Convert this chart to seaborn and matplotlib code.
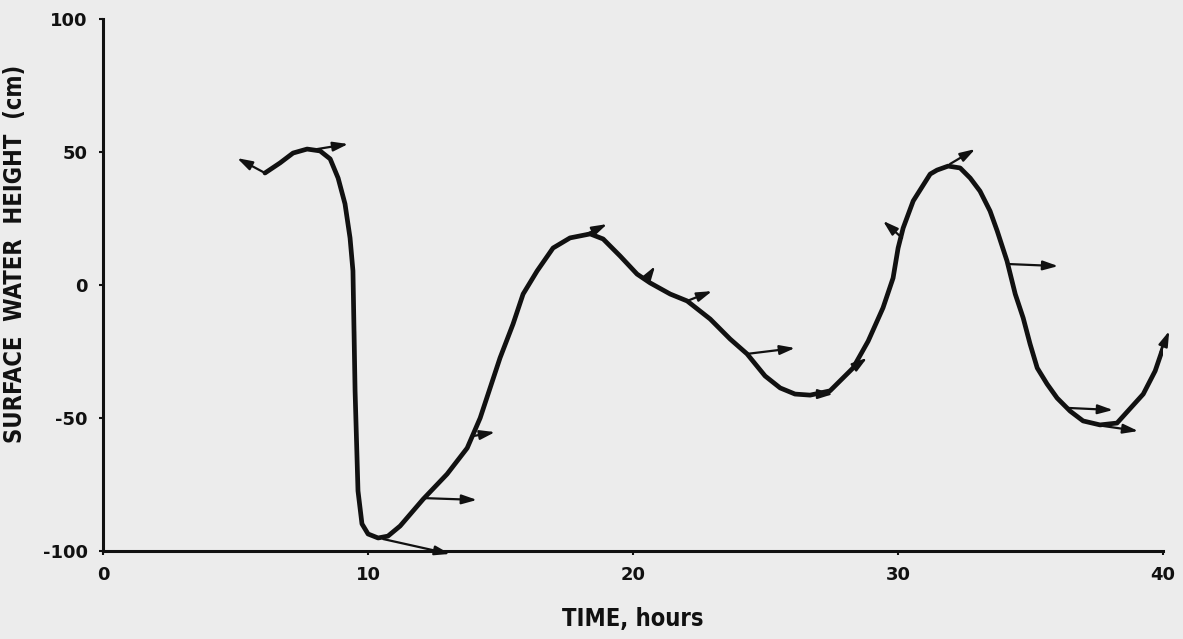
import matplotlib
matplotlib.use("Agg")
import matplotlib.pyplot as plt
import pandas as pd
import seaborn as sns

# surface water height trace
time_h = [6.11, 6.68, 7.17, 7.70, 8.19, 8.57, 8.87, 9.13, 9.32, 9.43, 9.51, 9.51,
          9.51, 9.62, 9.77, 10.00, 10.38, 10.75, 11.21, 12.08, 12.98, 13.74,
          14.23, 14.98, 15.47, 15.85, 16.38, 16.98, 17.62, 18.38, 18.87, 19.51,
          20.15, 20.64, 21.40, 22.04, 22.91, 23.66, 24.30, 24.98, 25.55, 26.11,
          26.68, 27.43, 28.30, 28.87, 29.43, 29.81, 30.00, 30.19, 30.57, 31.21,
          31.47, 31.89, 32.34, 32.72, 33.09, 33.47, 33.74, 34.11, 34.42, 34.72,
          34.98, 35.25, 35.62, 36.00, 36.49, 36.98, 37.62, 38.26, 39.25, 39.70,
          40.19]
height_cm = [42.1, 45.9, 49.6, 51.1, 50.4, 47.4, 40.2, 30.5, 17.7, 5.3, -17.3, -43.6,
             -58.6, -77.4, -89.8, -93.6, -95.1, -94.4, -90.6, -80.5, -71.1, -61.3,
             -50.0, -27.4, -14.7, -3.4, 5.3, 13.9, 17.7, 19.2, 17.3, 10.9,
             4.1, 0.8, -3.4, -6.0, -12.8, -20.3, -25.9, -34.2, -38.7, -41.0,
             -41.4, -39.8, -31.2, -21.1, -8.6, 2.6, 13.9, 21.4, 31.6, 41.7,
             43.2, 44.7, 44.0, 40.2, 35.3, 27.8, 20.3, 9.0, -3.4, -12.4,
             -22.2, -31.2, -37.2, -42.5, -47.4, -51.1, -52.6, -51.9, -41.0, -32.3,
             -18.0]

# velocity arrows (tail -> head)
arrow_x0 = [6.11, 8.08, 10.57, 12.08, 13.96, 18.26, 20.53, 22.04, 24.30, 26.79,
            28.30, 30.15, 31.96, 34.11, 36.38, 37.74, 39.89]
arrow_y0 = [42.1, 51.1, -95.5, -80.1, -56.8, 19.2, 2.6, -6.0, -25.9, -41.0,
            -31.2, 17.7, 45.5, 7.9, -46.2, -53.0, -25.6]
arrow_x1 = [5.06, 9.25, 13.09, 14.11, 14.79, 19.02, 20.83, 22.98, 26.11, 27.55,
            28.83, 29.43, 32.91, 36.04, 38.11, 39.06, 40.23]
arrow_y1 = [47.7, 53.0, -101.1, -80.8, -55.3, 22.9, 7.1, -2.3, -23.7, -41.0,
            -27.4, 24.1, 51.1, 7.1, -47.0, -54.9, -17.3]

x_ticks = [0, 10, 20, 30, 40]
y_ticks = [-100, -50, 0, 50, 100]

sns.set_style("ticks")
plt.rcParams["font.family"] = ["DejaVu Sans"]

bg = "#ececec"
ink = "#111111"

fig = plt.figure(figsize=(11.83, 6.39), dpi=100, facecolor=bg)
ax = fig.add_axes([0.0871, 0.1377, 0.8961, 0.8326], facecolor=bg)

df = pd.DataFrame({"time": time_h, "height": height_cm})
sns.lineplot(data=df, x="time", y="height", sort=False, color=ink,
             linewidth=3.4, ax=ax, solid_joinstyle="round", solid_capstyle="round")

for x0, y0, x1, y1 in zip(arrow_x0, arrow_y0, arrow_x1, arrow_y1):
    ax.annotate("", xy=(x1, y1), xytext=(x0, y0), annotation_clip=False,
                arrowprops=dict(arrowstyle="-|>,head_length=0.9,head_width=0.28",
                                color=ink, lw=1.6, shrinkA=0, shrinkB=0))

ax.set_xlim(0, 40)
ax.set_ylim(-100, 100)
ax.set_xticks(x_ticks)
ax.set_yticks(y_ticks)
ax.set_xticklabels([str(v) for v in x_ticks], fontsize=13, fontweight="bold")
ax.set_yticklabels([str(v) for v in y_ticks], fontsize=13, fontweight="bold")
ax.tick_params(length=3, width=1.5, color=ink, labelcolor=ink, pad=8)

for side in ["top", "right"]:
    ax.spines[side].set_visible(False)
for side in ["left", "bottom"]:
    ax.spines[side].set_linewidth(2.2)
    ax.spines[side].set_color(ink)

ax.set_xlabel("TIME, hours", fontsize=17, fontweight="bold", fontstretch="condensed",
              color=ink, labelpad=16)
ax.set_ylabel("SURFACE  WATER  HEIGHT  (cm)", fontsize=17, fontweight="bold",
              fontstretch="condensed", color=ink, labelpad=0)
ax.yaxis.set_label_coords(-0.072, 0.558)

fig.savefig("out.png", dpi=100, facecolor=bg)
